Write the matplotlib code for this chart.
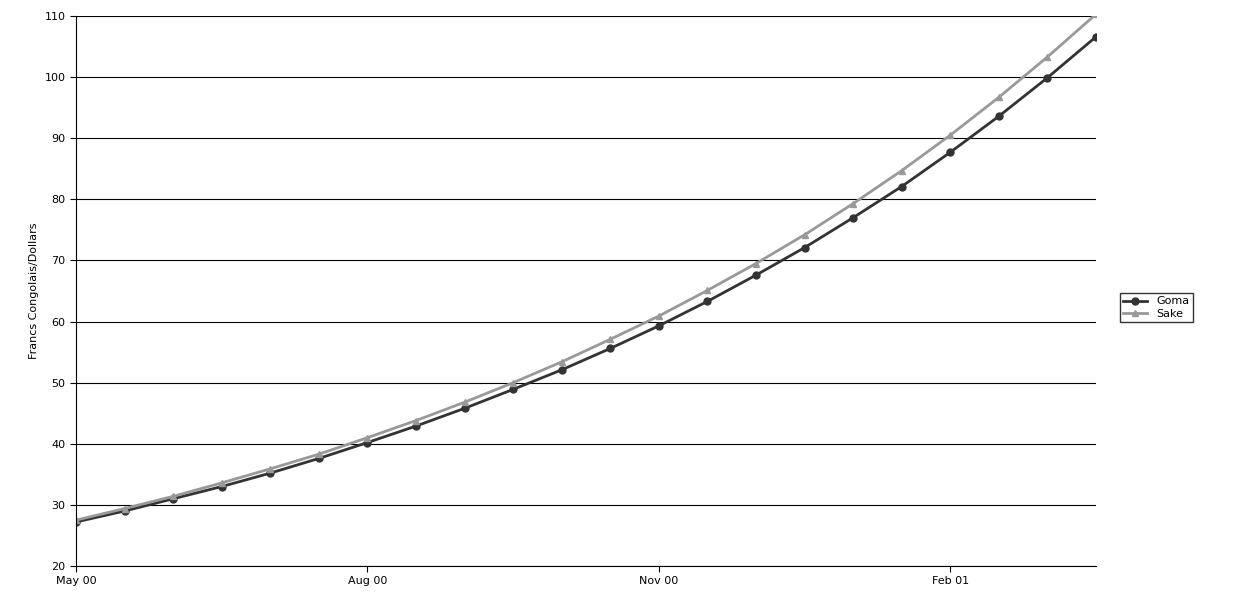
import matplotlib
matplotlib.use("Agg")
import matplotlib.pyplot as plt

goma = [27.2, 29.0, 31.0, 33.0, 35.2, 37.6, 40.2, 42.9, 45.8, 48.9, 52.1, 55.6,
        59.3, 63.3, 67.6, 72.1, 77.0, 82.1, 87.7, 93.6, 99.9, 106.6]
sake = [27.5, 29.4, 31.4, 33.6, 35.9, 38.3, 41.0, 43.8, 46.8, 50.0, 53.4, 57.1,
        60.9, 65.1, 69.5, 74.2, 79.3, 84.7, 90.5, 96.7, 103.3, 110.3]
tick_pos = [0, 6, 12, 18]
tick_labels = ["May 00", "Aug 00", "Nov 00", "Feb 01"]
x = list(range(len(goma)))

fig = plt.figure(figsize=(12.4, 5.98), dpi=100)
ax = fig.add_axes([76/1240, 1-566/598, (1096-76)/1240, 550/598])
ax.plot(x, goma, color="#333333", lw=2, marker="o", ms=5, label="Goma")
ax.plot(x, sake, color="#999999", lw=2, marker="^", ms=5, label="Sake")
ax.set_xlim(0, 21)
ax.set_ylim(20, 110)
ax.set_yticks(range(20, 111, 10))
ax.set_xticks(tick_pos)
ax.set_xticklabels(tick_labels)
ax.tick_params(labelsize=8, direction="out", length=4)
ax.yaxis.grid(True, color="black", lw=0.8)
ax.set_axisbelow(True)
for s in ["top", "right"]:
    ax.spines[s].set_visible(False)
ax.set_ylabel("Francs Congolais/Dollars", fontsize=8)
leg = ax.legend(loc="center left", bbox_to_anchor=(1114/1020 - 76/1020 + 0.0, 0.47),
                fontsize=8, frameon=True, fancybox=False, edgecolor="black",
                handlelength=2.2, borderpad=0.3, labelspacing=0.2)
fig.savefig("out.png", dpi=100)
